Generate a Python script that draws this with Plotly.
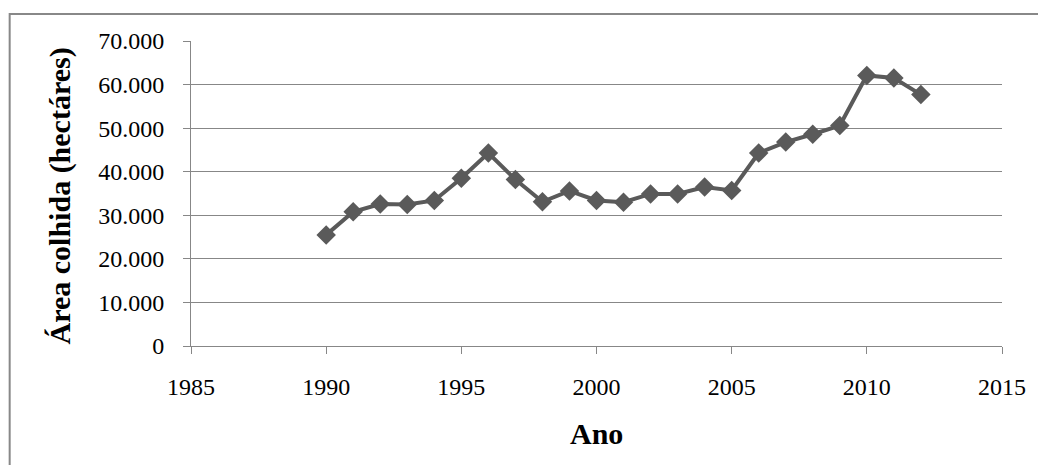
import plotly.graph_objects as go

anos = [1990, 1991, 1992, 1993, 1994, 1995, 1996, 1997, 1998, 1999, 2000, 2001,
        2002, 2003, 2004, 2005, 2006, 2007, 2008, 2009, 2010, 2011, 2012]
area_colhida = [25500, 30800, 32600, 32500, 33400, 38500, 44300, 38200, 33100, 35600,
                33400, 33000, 34900, 34900, 36500, 35700, 44300, 46800, 48600, 50600,
                62100, 61500, 57700]
x_ticks = [1985, 1990, 1995, 2000, 2005, 2010, 2015]
y_ticks = [0, 10000, 20000, 30000, 40000, 50000, 60000, 70000]

# page body has an 8px margin; work in figure coordinates (page - 8)
OFF = 8
W, H = 1046 - 2 * OFF, 473 - 2 * OFF
L, T = 191 - OFF, 41 - OFF
R = W - (1005 - OFF)
B = H - (346 - OFF)
pw, ph = W - L - R, H - T - B

font_family = "Liberation Serif, Times New Roman, serif"
grid = "#878787"
line_c = "#5a5a5a"

fig = go.Figure()
fig.add_trace(go.Scatter(
    x=anos, y=area_colhida, mode="lines+markers",
    line=dict(color=line_c, width=4),
    marker=dict(symbol="diamond", size=15, color=line_c),
    showlegend=False, hoverinfo="x+y"))

def px_x(p):
    return (p - OFF - L) / pw

def px_y(p):
    return 1 - (p - OFF - T) / ph

fig.update_layout(
    width=W, height=H,
    margin=dict(l=L, r=R, t=T, b=B, pad=0),
    paper_bgcolor="white", plot_bgcolor="white",
    separators=",.",
    font=dict(family=font_family, color="black", size=24),
    xaxis=dict(range=[1985, 2015], tickvals=x_ticks, showgrid=False,
               showline=True, linecolor=grid, linewidth=1, zeroline=False,
               ticks="outside", ticklen=7, tickcolor=grid, tickwidth=1,
               ticklabelstandoff=12, tickfont=dict(size=24, family=font_family)),
    yaxis=dict(range=[0, 70000], tickvals=y_ticks, tickformat=",d",
               showgrid=True, gridcolor=grid, gridwidth=1,
               showline=True, linecolor=grid, linewidth=1, zeroline=False,
               ticks="outside", ticklen=7, tickcolor=grid, tickwidth=1,
               ticklabelstandoff=14, tickfont=dict(size=24, family=font_family)),
    shapes=[dict(type="rect", xref="paper", yref="paper",
                 x0=px_x(9), x1=1.3, y0=-1.0, y1=px_y(14),
                 line=dict(color="#888888", width=2), layer="below")],
    annotations=[
        dict(text="<b>Área colhida (hectáres)</b>", xref="paper", yref="paper",
             x=px_x(60), y=px_y(196), textangle=-90,
             showarrow=False, font=dict(size=30, family=font_family),
             xanchor="center", yanchor="middle"),
        dict(text="<b>Ano</b>", xref="paper", yref="paper",
             x=0.5, y=px_y(433), showarrow=False,
             font=dict(size=30, family=font_family),
             xanchor="center", yanchor="middle"),
    ],
)

fig.write_html("out.html")
